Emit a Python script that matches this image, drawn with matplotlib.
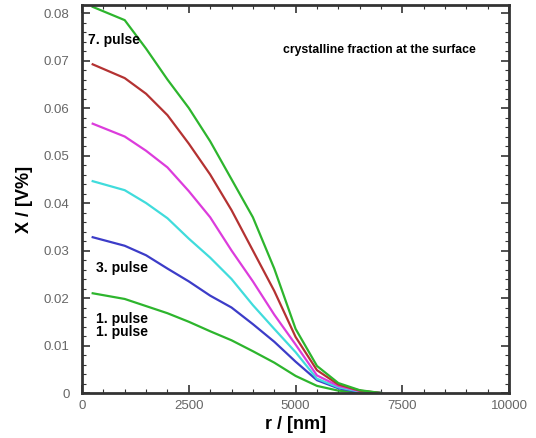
import matplotlib
matplotlib.use("Agg")
import matplotlib.pyplot as plt
from matplotlib.ticker import MultipleLocator

r = [250, 1000, 1500, 2000, 2500, 3000, 3500, 4000, 4500, 5000, 5500, 6000, 6500, 7000]
pulse1 = [0.0210, 0.0198, 0.0183, 0.0168, 0.0150, 0.0130, 0.0111, 0.0088, 0.0064, 0.0036, 0.0015, 0.0005, 0.0001, 0.0]
pulse3 = [0.0328, 0.0310, 0.0290, 0.0262, 0.0235, 0.0205, 0.0180, 0.0145, 0.0108, 0.0066, 0.0027, 0.0010, 0.0002, 0.0]
pulse4 = [0.0446, 0.0427, 0.0400, 0.0368, 0.0325, 0.0285, 0.0240, 0.0185, 0.0135, 0.0086, 0.0030, 0.0012, 0.0003, 0.0]
pulse5 = [0.0567, 0.0540, 0.0510, 0.0475, 0.0425, 0.0370, 0.0300, 0.0235, 0.0165, 0.0102, 0.0037, 0.0015, 0.0004, 0.0]
pulse6 = [0.0692, 0.0663, 0.0630, 0.0585, 0.0525, 0.0460, 0.0385, 0.0300, 0.0215, 0.0118, 0.0048, 0.0018, 0.0005, 0.0]
pulse7 = [0.0813, 0.0785, 0.0725, 0.0660, 0.0600, 0.0530, 0.0450, 0.0370, 0.0262, 0.0135, 0.0057, 0.0021, 0.0006, 0.0]

series = [pulse1, pulse3, pulse4, pulse5, pulse6, pulse7]
colors = ['#2db52d', '#3c3cc8', '#40dcdc', '#dc3cdc', '#b43232', '#2db52d']

x_ticks = [0, 2500, 5000, 7500, 10000]
y_ticks = [0, 0.01, 0.02, 0.03, 0.04, 0.05, 0.06, 0.07, 0.08]
y_ticklabels = ['0', '0.01', '0.02', '0.03', '0.04', '0.05', '0.06', '0.07', '0.08']

plt.rcParams['font.family'] = ['Liberation Sans', 'DejaVu Sans']

fig = plt.figure(figsize=(5.36, 4.38), dpi=100)
ax = fig.add_axes([0.153, 0.1027, 0.797, 0.886])

for s, c in zip(series, colors):
    ax.plot(r, s, color=c, lw=1.6)

ax.set_xlim(0, 10000)
ax.set_ylim(0, 0.0817)
ax.set_xticks(x_ticks)
ax.set_xticklabels([str(v) for v in x_ticks])
ax.set_yticks(y_ticks)
ax.set_yticklabels(y_ticklabels)
ax.xaxis.set_minor_locator(MultipleLocator(500))
ax.yaxis.set_minor_locator(MultipleLocator(0.002))
ax.tick_params(which='both', direction='in', top=True, right=True,
               colors='#333333', labelcolor='#666666', labelsize=9.5)
ax.tick_params(axis='y', which='major', pad=9)
ax.tick_params(axis='x', which='major', pad=5)
ax.tick_params(which='major', length=6, width=1.2)
ax.tick_params(which='minor', length=3, width=0.8)
for sp in ax.spines.values():
    sp.set_linewidth(2)
    sp.set_color('#333333')

ax.set_xlabel('r / [nm]', fontsize=13, fontweight='bold', labelpad=3)
ax.set_ylabel('X / [V%]', fontsize=13, fontweight='bold', labelpad=8)

fs = 10
ax.text(150, 0.0743, '7. pulse', fontsize=fs, fontweight='bold', va='center')
ax.text(330, 0.0263, '3. pulse', fontsize=fs, fontweight='bold', va='center')
ax.text(330, 0.0156, '1. pulse', fontsize=fs, fontweight='bold', va='center')
ax.text(330, 0.0129, '1. pulse', fontsize=fs, fontweight='bold', va='center')
ax.text(4700, 0.0722, 'crystalline fraction at the surface', fontsize=8.8,
        fontweight='bold', va='center')

fig.savefig('out.png', dpi=100)
